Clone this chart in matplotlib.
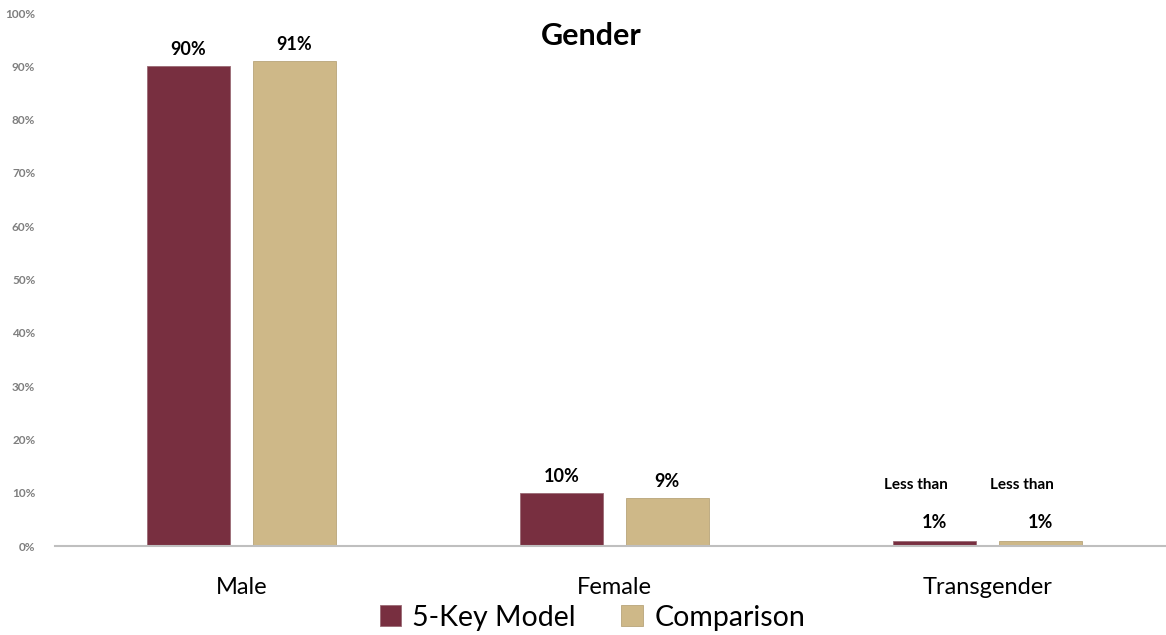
import matplotlib
matplotlib.use("Agg")
import matplotlib.pyplot as plt
import numpy as np

categories = ["Male", "Female", "Transgender"]
series_names = ["5-Key Model", "Comparison"]
five_key = [90, 10, 1]
comparison = [91, 9, 1]
labels_five = ["90%", "10%", "1%"]
labels_comp = ["91%", "9%", "1%"]
yticks = [0, 10, 20, 30, 40, 50, 60, 70, 80, 90, 100]

plt.rcParams['font.family'] = ['Lato', 'DejaVu Sans']

fig = plt.figure(figsize=(11.66, 6.35), dpi=100)
ax = fig.add_axes([0.047, 0.140, 0.9597, 0.8395])

x = np.arange(len(categories))
w = 0.222
off = 0.142
c1 = "#782F40"
c2 = "#CEB888"
b1 = ax.bar(x - off, five_key, w, color=c1, edgecolor="#9a6a74", linewidth=0.6, label=series_names[0])
b2 = ax.bar(x + off, comparison, w, color=c2, edgecolor="#b8a57a", linewidth=0.6, label=series_names[1])

for i in range(len(categories)):
    for xi, v, lab in [(x[i] - off, five_key[i], labels_five[i]), (x[i] + off, comparison[i], labels_comp[i])]:
        if categories[i] == "Transgender":
            ax.text(xi, v + 1.9, lab, ha="center", va="bottom", fontsize=13, fontweight="bold")
            ax.annotate("Less than", (xi, v + 9.2), xytext=(-13, 0), textcoords="offset points",
                        ha="center", va="bottom", fontsize=11, fontweight="bold")
        else:
            ax.text(xi, v + 1.5, lab, ha="center", va="bottom", fontsize=13, fontweight="bold")

ax.set_xlim(-0.5, 2.5)
ax.set_ylim(0, 100)
ax.set_yticks(yticks)
ax.set_yticklabels([f"{t}%" for t in yticks], fontsize=8.5, color="#7f7f7f", fontweight="bold")
ax.set_xticks(x)
ax.set_xticklabels(categories, fontsize=17)
ax.tick_params(axis="both", length=0)
ax.tick_params(axis="x", pad=22)
ax.tick_params(axis="y", pad=14)
for s in ["top", "right", "left"]:
    ax.spines[s].set_visible(False)
ax.spines["bottom"].set_color("#bfbfbf")
ax.spines["bottom"].set_linewidth(1.5)

fig.text(0.507, 0.943, "Gender", ha="center", va="center", fontsize=22, fontweight="bold")

fig.legend(handles=[b1, b2], loc="center", bbox_to_anchor=(0.508, 0.027), ncol=2, frameon=False,
           fontsize=20.5, handlelength=0.75, handleheight=0.75, handletextpad=0.4, columnspacing=1.6)

fig.savefig("out.png", dpi=100)
